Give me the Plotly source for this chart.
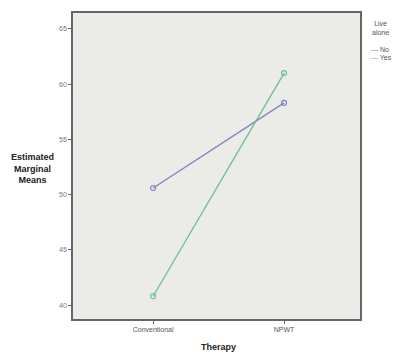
import plotly.graph_objects as go

therapy = ["Conventional", "NPWT"]
no_means = [50.6, 58.3]
yes_means = [40.8, 61.0]
y_ticks = [40, 45, 50, 55, 60, 65]
series_names = ["No", "Yes"]
series_colors = ["#7C82C4", "#66C28E"]

fig = go.Figure()
for name, vals, col in zip(series_names, [no_means, yes_means], series_colors):
    fig.add_trace(go.Scatter(x=therapy, y=vals, name=name, mode="lines+markers",
                             line=dict(color=col, width=1.3),
                             marker=dict(symbol="circle-open", size=5, color=col, line=dict(width=1.1)),
                             showlegend=False))

W, H = 395, 354
L, R, T, B = 73, 35, 13, 35
fig.update_layout(
    width=W, height=H,
    margin=dict(l=L, r=R, t=T, b=B),
    paper_bgcolor="white", plot_bgcolor="#EBEBE7",
    font=dict(family="Liberation Sans, Arial", size=7, color="#555"),
    showlegend=False,
    xaxis=dict(type="category", range=[-0.612, 1.58], showgrid=False, zeroline=False,
               showline=True, linecolor="#666", linewidth=1.5, mirror=True,
               ticks="outside", ticklen=3, tickcolor="#666", tickfont=dict(size=7, color="#555")),
    yaxis=dict(range=[38.74, 66.44], tickvals=y_ticks, showgrid=False, zeroline=False,
               showline=True, linecolor="#666", linewidth=1.5, mirror=True,
               ticks="outside", ticklen=3, tickcolor="#666", tickfont=dict(size=7, color="#777")),
)
pw, ph = W - L - R, H - T - B
def px(x): return (x - L) / pw
def py(y): return (H - B - y) / ph

fig.add_annotation(text="<b>Estimated<br>Marginal<br>Means</b>", xref="paper", yref="paper",
                   x=px(32), y=py(168), xanchor="center", yanchor="middle", showarrow=False,
                   align="center", font=dict(size=9, color="#222"))
fig.add_annotation(text="<b>Therapy</b>", xref="paper", yref="paper",
                   x=px(218), y=py(347), xanchor="center", yanchor="middle", showarrow=False,
                   font=dict(size=9, color="#222"))
fig.add_annotation(text="Live<br>alone", xref="paper", yref="paper",
                   x=px(380), y=py(28), xanchor="center", yanchor="middle", showarrow=False,
                   align="center", font=dict(size=7, color="#555"))
for i, (name, col) in enumerate(zip(series_names, series_colors)):
    yy = 49 + i * 8.5
    fig.add_annotation(text=f"<span style='color:{col}'>—</span> {name}", xref="paper", yref="paper",
                       x=px(369), y=py(yy), xanchor="left", yanchor="middle", showarrow=False,
                       align="left", font=dict(size=7, color="#555"))
fig.write_html("out.html", config={"displayModeBar": False},
               post_script="document.body.style.margin='0';")
